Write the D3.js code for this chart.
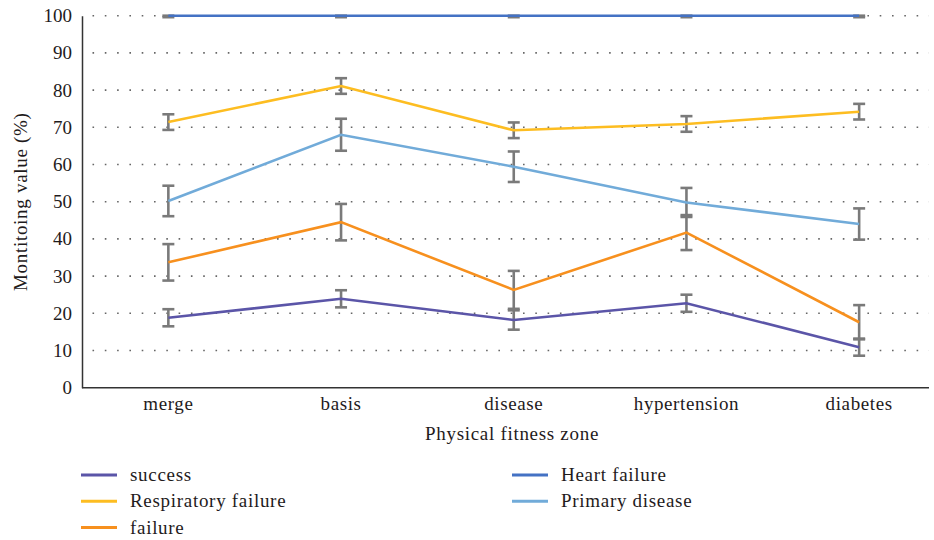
<!DOCTYPE html>
<html>
<head>
<meta charset="utf-8">
<script src="https://cdn.jsdelivr.net/npm/d3@7"></script>
<style>
  html, body { margin: 0; padding: 0; background: #fff; }
  svg { display: block; }
</style>
</head>
<body>
<svg id="chart" width="934" height="540"></svg>
<script>
// Zones along the x axis
const categories = ["merge", "basis", "disease", "hypertension", "diabetes"];
const yTicks = [0, 10, 20, 30, 40, 50, 60, 70, 80, 90, 100];

// Monitoring values (%) and their error half-widths
const successValues     = [18.8, 23.9, 18.2, 22.7, 10.9];
const successErrors     = [2.3, 2.3, 2.6, 2.3, 2.3];
const respiratoryValues = [71.4, 81.1, 69.2, 70.9, 74.2];
const respiratoryErrors = [2.1, 2.1, 2.1, 2.1, 2.1];
const failureValues     = [33.7, 44.5, 26.3, 41.7, 17.6];
const failureErrors     = [4.9, 4.9, 5.1, 4.7, 4.6];
const heartValues       = [100, 100, 100, 100, 100];
const heartErrors       = [0.4, 0.4, 0.4, 0.4, 0.4];
const primaryValues     = [50.2, 68.0, 59.4, 49.8, 44.0];
const primaryErrors     = [4.1, 4.3, 4.1, 3.9, 4.2];

const seriesNames  = ["success", "Respiratory failure", "failure", "Heart failure", "Primary disease"];
const seriesColors = ["#5b55a8", "#fdbd21", "#f7901e", "#4472c4", "#71abd9"];

const series = [
  { name: seriesNames[0], values: successValues,     errors: successErrors,     color: seriesColors[0] },
  { name: seriesNames[1], values: respiratoryValues, errors: respiratoryErrors, color: seriesColors[1] },
  { name: seriesNames[2], values: failureValues,     errors: failureErrors,     color: seriesColors[2] },
  { name: seriesNames[3], values: heartValues,       errors: heartErrors,       color: seriesColors[3] },
  { name: seriesNames[4], values: primaryValues,     errors: primaryErrors,     color: seriesColors[4] }
];

const FONT = "Liberation Serif";
const TEXT_COLOR = "#1f1b1c";
const svg = d3.select("#chart");
const plotLeft = 82, plotTop = 15.7, plotBottom = 387.7, plotRight = 945.5;

const x = d3.scaleBand().domain(categories).range([plotLeft, plotRight]);
const y = d3.scaleLinear().domain([0, 100]).range([plotBottom, plotTop]);
const cx = c => x(c) + x.bandwidth() / 2;

function styleText(sel, spacing) {
  sel.attr("font-family", FONT)
     .attr("font-size", 19)
     .attr("letter-spacing", spacing)
     .attr("fill", TEXT_COLOR);
}

// Dotted horizontal gridlines
svg.append("g")
  .selectAll("line")
  .data(yTicks.filter(t => t > 0))
  .join("line")
  .attr("x1", plotLeft + 10.5).attr("x2", 929)
  .attr("y1", d => y(d)).attr("y2", d => y(d))
  .attr("stroke", "#666")
  .attr("stroke-width", 1.6)
  .attr("stroke-dasharray", "1.6,10.7");

// Y axis
const yAxis = svg.append("g")
  .attr("transform", `translate(${plotLeft},0)`)
  .call(d3.axisLeft(y).tickValues(yTicks).tickSize(0).tickPadding(10));
yAxis.select(".domain").attr("stroke", "#333").attr("stroke-width", 1.5);
yAxis.selectAll("text").call(styleText, 0);

// X axis
const xAxis = svg.append("g")
  .attr("transform", `translate(0,${plotBottom})`)
  .call(d3.axisBottom(x).tickSize(0).tickPadding(9));
xAxis.select(".domain").remove();
xAxis.append("line")
  .attr("x1", plotLeft).attr("x2", 929)
  .attr("stroke", "#333").attr("stroke-width", 1.5);
xAxis.selectAll("text").call(styleText, 0.6);

// Axis titles
svg.append("text")
  .attr("transform", `translate(27,${(plotTop + plotBottom) / 2}) rotate(-90)`)
  .attr("text-anchor", "middle")
  .call(styleText, 0.7)
  .text("Montitoing value (%)");

svg.append("text")
  .attr("x", 512).attr("y", 440)
  .attr("text-anchor", "middle")
  .call(styleText, 0.7)
  .text("Physical fitness zone");

// Error bars
const errG = svg.append("g").attr("stroke", "#7a7a7a").attr("stroke-width", 2.6);
series.forEach(s => {
  categories.forEach((c, i) => {
    const hi = Math.min(100, s.values[i] + s.errors[i]);
    const lo = s.values[i] - s.errors[i];
    const px = cx(c);
    errG.append("line").attr("x1", px).attr("x2", px).attr("y1", y(hi)).attr("y2", y(lo));
    errG.append("line").attr("x1", px - 6).attr("x2", px + 6).attr("y1", y(hi)).attr("y2", y(hi));
    errG.append("line").attr("x1", px - 6).attr("x2", px + 6).attr("y1", y(lo)).attr("y2", y(lo));
  });
});

// Series lines
const line = d3.line().x(d => cx(d.c)).y(d => y(d.v));
series.forEach(s => {
  svg.append("path")
    .datum(categories.map((c, i) => ({ c, v: s.values[i] })))
    .attr("fill", "none")
    .attr("stroke", s.color)
    .attr("stroke-width", 2.6)
    .attr("d", line);
});

// Legend (two columns)
const legendPos = [
  { col: 0, row: 0 }, { col: 0, row: 1 }, { col: 0, row: 2 },
  { col: 1, row: 0 }, { col: 1, row: 1 }
];
const legend = svg.append("g");
series.forEach((s, i) => {
  const p = legendPos[i];
  const lx = p.col === 0 ? 81 : 512;
  const ly = 475 + p.row * 26.3;
  legend.append("line")
    .attr("x1", lx).attr("x2", lx + 36)
    .attr("y1", ly).attr("y2", ly)
    .attr("stroke", s.color).attr("stroke-width", 3);
  legend.append("text")
    .attr("x", lx + 49).attr("y", ly + 6)
    .call(styleText, 0.7)
    .text(s.name);
});
</script>
</body>
</html>
